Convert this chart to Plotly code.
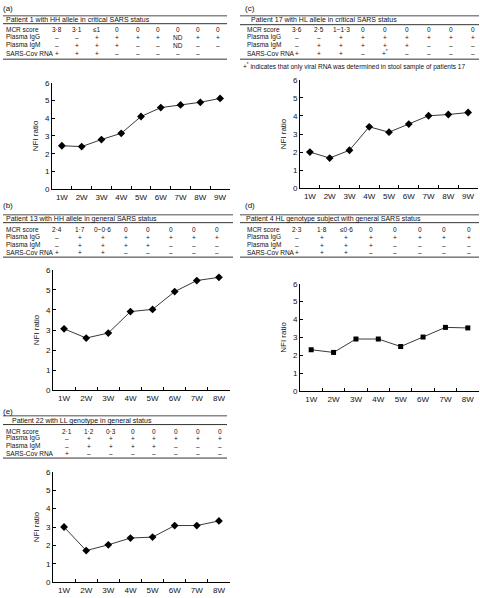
import plotly.graph_objects as go

W, H = 480, 598
FONT = "Liberation Sans, Arial, sans-serif"

# ---------------- data ----------------
weeks9 = ["1W", "2W", "3W", "4W", "5W", "6W", "7W", "8W", "9W"]
weeks8 = weeks9[:8]

a_nfi = [2.45, 2.4, 2.8, 3.15, 4.1, 4.6, 4.75, 4.9, 5.12]
b_nfi = [3.06, 2.6, 2.85, 3.92, 4.03, 4.92, 5.47, 5.63]
c_nfi = [2.0, 1.67, 2.1, 3.4, 3.1, 3.55, 4.01, 4.08, 4.19]
d_nfi = [2.31, 2.16, 2.91, 2.91, 2.49, 3.02, 3.56, 3.53]
e_nfi = [3.0, 1.72, 2.03, 2.4, 2.45, 3.08, 3.08, 3.33]

row_labels = ["MCR score", "Plasma IgG", "Plasma IgM", "SARS-Cov RNA"]

a_title = "Patient 1 with HH allele in critical SARS status"
a_mcr = ["3·8", "3·1", "≤1", "0", "0", "0", "0", "0", "0"]
a_igg = ["–", "–", "+", "+", "+", "+", "ND", "+", "+"]
a_igm = ["–", "+", "+", "+", "–", "–", "ND", "–", "–"]
a_rna = ["+", "+", "+", "–", "–", "–", "–", "–", ""]

c_title = "Patient 17 with HL allele in critical SARS status"
c_mcr = ["3·6", "2·5", "1~1·3", "0", "0", "0", "0", "0", "0"]
c_igg = ["–", "–", "+", "+", "+", "+", "+", "+", "+"]
c_igm = ["–", "+", "+", "+", "+", "+", "–", "–", "–"]
c_rna = ["+", "+", "+", "–", "+<sup>*</sup>", "–", "–", "–", "–"]
c_note = "+<sup>*</sup> indicates that only viral RNA was determined in stool sample of patients 17"

b_title = "Patient 13 with HH allele in general SARS status"
b_mcr = ["2·4", "1·7", "0~0·6", "0", "0", "0", "0", "0"]
b_igg = ["–", "+", "+", "+", "+", "+", "+", "+"]
b_igm = ["–", "+", "+", "+", "+", "–", "–", "–"]
b_rna = ["+", "+", "+", "–", "–", "–", "–", "–"]

d_title = "Patient 4 HL genotype subject with general SARS status"
d_mcr = ["2·3", "1·8", "≤0·6", "0", "0", "0", "0", "0"]
d_igg = ["–", "+", "+", "+", "+", "+", "+", "+"]
d_igm = ["–", "+", "+", "+", "–", "–", "–", "–"]
d_rna = ["+", "+", "+", "–", "–", "–", "–", "–"]

e_title = "Patient 22 with LL genotype in general status"
e_mcr = ["2·1", "1·2", "0·3", "0", "0", "0", "0", "0"]
e_igg = ["–", "+", "+", "+", "+", "+", "+", "+"]
e_igm = ["–", "+", "+", "+", "+", "–", "–", "–"]
e_rna = ["+", "–", "–", "–", "–", "–", "–", "–"]

y_ticks = [0, 1, 2, 3, 4, 5, 6]


def px(x):
    return x / W


def py(y):
    return 1 - y / H


fig = go.Figure()
annotations = []
shapes = []
TS = 6.5  # table font size
TC = "#111"

panels = [
    dict(lab="(a)", lxy=(1, 5), weeks=weeks9, vals=a_nfi, sym="diamond",
         ax=(52, 230, 80, 188),
         tab=dict(title=a_title, rows=[a_mcr, a_igg, a_igm, a_rna],
                  x0=3, x1=227, lines=(12, 20, 56), hy=16, hx=4, rx=4,
                  ry=(26, 34, 42, 50), c0=57, c1=218)),
    dict(lab="(c)", lxy=(243, 5), weeks=weeks9, vals=c_nfi, sym="diamond",
         ax=(300, 478, 77, 187),
         tab=dict(title=c_title, rows=[c_mcr, c_igg, c_igm, c_rna],
                  x0=240, x1=479, lines=(12, 21, 56), hy=16, hx=249, rx=245,
                  ry=(26, 34, 42, 50), c0=297, c1=473)),
    dict(lab="(b)", lxy=(1, 205), weeks=weeks8, vals=b_nfi, sym="diamond",
         ax=(53, 230, 270, 392),
         tab=dict(title=b_title, rows=[b_mcr, b_igg, b_igm, b_rna],
                  x0=3, x1=233, lines=(214, 222, 257), hy=218, hx=4, rx=4,
                  ry=(229, 237, 245, 252), c0=57, c1=217)),
    dict(lab="(d)", lxy=(243, 205), weeks=weeks8, vals=d_nfi, sym="square",
         ax=(300, 479, 284, 393),
         tab=dict(title=d_title, rows=[d_mcr, d_igg, d_igm, d_rna],
                  x0=240, x1=479, lines=(214, 222, 257), hy=218, hx=244, rx=245,
                  ry=(229, 237, 245, 252), c0=297, c1=469)),
    dict(lab="(e)", lxy=(1, 414), weeks=weeks8, vals=e_nfi, sym="diamond",
         ax=(53, 230, 475, 587),
         tab=dict(title=e_title, rows=[e_mcr, e_igg, e_igm, e_rna],
                  x0=3, x1=227, lines=(418, 427, 461), hy=423, hx=10, rx=4,
                  ry=(434, 441, 449, 456), c0=67, c1=220)),
]

for i, p in enumerate(panels):
    k = "" if i == 0 else str(i + 1)
    xa, ya = "x" + k, "y" + k
    x0, x1, yt, yb = p["ax"]
    n = len(p["weeks"])
    fig.add_trace(go.Scatter(
        x=p["weeks"], y=p["vals"], xaxis=xa, yaxis=ya, mode="lines+markers",
        line=dict(color="#3a3a3a", width=1),
        marker=dict(symbol=p["sym"], size=6 if p["sym"] == "diamond" else 5,
                    color="black"),
        showlegend=False, hoverinfo="skip", cliponaxis=False))
    fig.layout["xaxis" + k] = dict(
        domain=[px(x0), px(x1)], anchor=ya, type="category",
        range=[-0.5, n - 0.5], tickson="boundaries", ticks="inside",
        ticklen=3, tickcolor="black", showline=True, linecolor="black",
        linewidth=1, showgrid=False, zeroline=False, tickangle=0,
        tickfont=dict(size=8, family=FONT, color=TC), fixedrange=True)
    fig.layout["yaxis" + k] = dict(
        domain=[py(yb), py(yt)], anchor=xa, range=[0, 6], tickvals=y_ticks,
        ticks="inside", ticklen=3, tickcolor="black", showline=True,
        linecolor="black", linewidth=1, showgrid=False, zeroline=False,
        tickfont=dict(size=8, family=FONT, color=TC),
        title=dict(text="NFI ratio", font=dict(size=8, family=FONT, color=TC),
                   standoff=5), fixedrange=True)

    annotations.append(dict(x=px(p["lxy"][0]), y=py(p["lxy"][1]), xref="paper",
                            yref="paper", text=p["lab"], showarrow=False,
                            xanchor="left", yanchor="middle",
                            font=dict(size=8, family=FONT, color=TC)))
    t = p["tab"]
    l0, l1, l2 = t["lines"]
    shapes.append(dict(type="line", xref="paper", yref="paper",
                       x0=px(t["x0"]), x1=px(t["x1"]), y0=py(l0), y1=py(l0),
                       line=dict(color="#888", width=1.5)))
    for ly in (l1, l2):
        shapes.append(dict(type="line", xref="paper", yref="paper",
                           x0=px(t["x0"]), x1=px(t["x1"]), y0=py(ly), y1=py(ly),
                           line=dict(color="#333", width=1)))
    annotations.append(dict(x=px(t["hx"]), y=py(t["hy"]), xref="paper",
                            yref="paper", text=t["title"], showarrow=False,
                            xanchor="left", yanchor="middle",
                            font=dict(size=7, family=FONT, color=TC)))
    ncol = len(t["rows"][0])
    step = (t["c1"] - t["c0"]) / (ncol - 1)
    for r, (lab, vals) in enumerate(zip(row_labels, t["rows"])):
        ry = t["ry"][r]
        annotations.append(dict(x=px(t["rx"]), y=py(ry), xref="paper",
                                yref="paper", text=lab, showarrow=False,
                                xanchor="left", yanchor="middle",
                                font=dict(size=TS, family=FONT, color=TC)))
        for c, v in enumerate(vals):
            if not v:
                continue
            annotations.append(dict(x=px(t["c0"] + c * step), y=py(ry),
                                    xref="paper", yref="paper", text=v,
                                    showarrow=False, xanchor="center",
                                    yanchor="middle",
                                    font=dict(size=TS, family=FONT, color=TC)))

annotations.append(dict(x=px(241), y=py(63), xref="paper", yref="paper",
                        text=c_note, showarrow=False, xanchor="left",
                        yanchor="middle",
                        font=dict(size=TS, family=FONT, color=TC)))

fig.update_layout(width=W, height=H, margin=dict(l=0, r=0, t=0, b=0),
                  paper_bgcolor="white", plot_bgcolor="white",
                  annotations=annotations, shapes=shapes,
                  font=dict(family=FONT))

fig.write_html("out.html", config={"displayModeBar": False},
               post_script="document.body.style.margin='0';document.body.style.overflow='hidden';")
